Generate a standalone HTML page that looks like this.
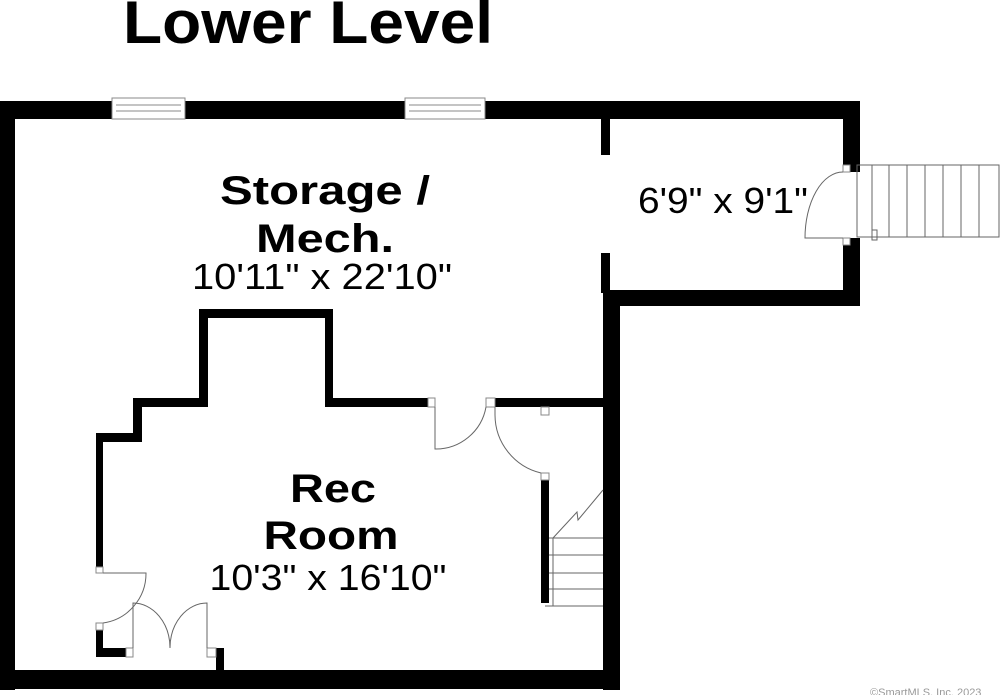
<!DOCTYPE html>
<html><head><style>html,body{margin:0;padding:0;background:#fff;}svg{display:block}</style></head>
<body>
<svg width="1001" height="695" viewBox="0 0 1001 695" xmlns="http://www.w3.org/2000/svg" font-family="Liberation Sans, Arial, sans-serif">
<rect width="1001" height="695" fill="#fff"/>
<text x="123" y="43" font-size="60" font-weight="bold" textLength="370" lengthAdjust="spacingAndGlyphs">Lower Level</text>
<g fill="#000">
<!-- outer walls -->
<rect x="0" y="101" width="860" height="18"/>
<rect x="0" y="101" width="15" height="589"/>
<rect x="0" y="670" width="620" height="19"/>
<rect x="603" y="290" width="17" height="400"/>
<rect x="603" y="290" width="257" height="16"/>
<rect x="843" y="101" width="17" height="71"/>
<rect x="843" y="238" width="17" height="68"/>
<rect x="601" y="119" width="9" height="36"/>
<rect x="601" y="253" width="9" height="40"/>
<!-- rec room walls -->
<rect x="199" y="309" width="134" height="9"/>
<rect x="199" y="309" width="9" height="98"/>
<rect x="325" y="309" width="8" height="98"/>
<rect x="325" y="398" width="103" height="9"/>
<rect x="495" y="398" width="110" height="9"/>
<rect x="133" y="398" width="75" height="9"/>
<rect x="133" y="398" width="9" height="44"/>
<rect x="96" y="433" width="46" height="9"/>
<rect x="96" y="433" width="7" height="134"/>
<rect x="96" y="630" width="7" height="27"/>
<rect x="96" y="648" width="30" height="9"/>
<rect x="216" y="648" width="8" height="25"/>
<rect x="541" y="480" width="8" height="123"/>
</g>
<g fill="#fff" stroke="#888" stroke-width="1">
<!-- windows -->
<rect x="112" y="98" width="73" height="21"/>
<line x1="116" y1="105" x2="181" y2="105"/><line x1="116" y1="111" x2="181" y2="111"/>
<rect x="405" y="98" width="80" height="21"/>
<line x1="409" y1="105" x2="481" y2="105"/><line x1="409" y1="111" x2="481" y2="111"/>
<!-- jambs -->
<rect x="428" y="398" width="7" height="9"/>
<rect x="486" y="398" width="9" height="9"/>
<rect x="541" y="407" width="8" height="8"/>
<rect x="541" y="473" width="8" height="7"/>
<rect x="96" y="567" width="7" height="6"/>
<rect x="96" y="623" width="7" height="7"/>
<rect x="126" y="648" width="7" height="9"/>
<rect x="207" y="648" width="9" height="9"/>
<rect x="843" y="165" width="7" height="7"/>
<rect x="843" y="238" width="7" height="7"/>
</g>
<g fill="none" stroke="#666" stroke-width="1">
<!-- doors -->
<path d="M435 407 V449 A51 51 0 0 0 486 407"/>
<path d="M495 415 A60 60 0 0 0 541 473"/>
<line x1="495" y1="407" x2="495" y2="415"/>
<path d="M103 573 H146 A50 50 0 0 1 103 623"/>
<path d="M133 648 V603 A37 45 0 0 1 170 648"/>
<path d="M207 648 V603 A37 45 0 0 0 170 648"/>
<path d="M843 238 H805 A38 66 0 0 1 843 172"/>
<!-- outside stairs -->
<rect x="857" y="165" width="142" height="72"/>
<line x1="872" y1="165" x2="872" y2="237"/><line x1="889" y1="165" x2="889" y2="237"/>
<line x1="907" y1="165" x2="907" y2="237"/><line x1="925" y1="165" x2="925" y2="237"/>
<line x1="943" y1="165" x2="943" y2="237"/><line x1="961" y1="165" x2="961" y2="237"/>
<line x1="979" y1="165" x2="979" y2="237"/>
<rect x="872" y="230" width="5" height="10"/>
<!-- inside stairs -->
<line x1="549" y1="538" x2="603" y2="538"/><line x1="549" y1="555" x2="603" y2="555"/>
<line x1="549" y1="573" x2="603" y2="573"/><line x1="549" y1="589" x2="603" y2="589"/>
<line x1="545" y1="606" x2="603" y2="606"/>
<line x1="553" y1="538" x2="553" y2="606"/>
<path d="M553 538 L577 512 L578 520 L603 490"/>
</g>
<text x="325" y="204" font-size="40" font-weight="bold" text-anchor="middle" textLength="210" lengthAdjust="spacingAndGlyphs">Storage /</text>
<text x="325" y="252" font-size="40" font-weight="bold" text-anchor="middle" textLength="138" lengthAdjust="spacingAndGlyphs">Mech.</text>
<text x="322" y="289" font-size="36" text-anchor="middle" textLength="260" lengthAdjust="spacingAndGlyphs">10'11" x 22'10"</text>
<text x="723" y="213" font-size="36" text-anchor="middle" textLength="170" lengthAdjust="spacingAndGlyphs">6'9" x 9'1"</text>
<text x="333" y="502" font-size="40" font-weight="bold" text-anchor="middle" textLength="86" lengthAdjust="spacingAndGlyphs">Rec</text>
<text x="331" y="549" font-size="40" font-weight="bold" text-anchor="middle" textLength="135" lengthAdjust="spacingAndGlyphs">Room</text>
<text x="328" y="590" font-size="36" text-anchor="middle" textLength="237" lengthAdjust="spacingAndGlyphs">10'3" x 16'10"</text>
<text x="870" y="696" font-size="11" fill="#999">©SmartMLS, Inc. 2023</text>
</svg>
</body></html>
